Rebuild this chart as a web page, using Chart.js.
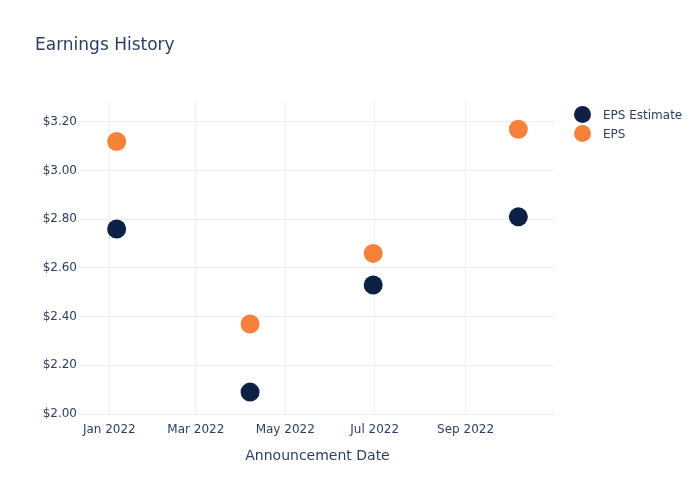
<!DOCTYPE html>
<html>
<head>
<meta charset="utf-8">
<script src="https://cdn.jsdelivr.net/npm/chart.js@4.4.0/dist/chart.umd.min.js"></script>
<style>
    body { margin: 0; background: #fff; font-family: "DejaVu Sans", sans-serif; }
    #wrap { position: relative; width: 700px; height: 500px; }
    #earningsChart { display: block; }
    #title { position: absolute; left: 35px; top: 34px; font-size: 17px; color: #2a3f5f; }
    #legend { position: absolute; left: 574px; top: 106px; font-size: 12px; color: #2a3f5f; }
    #legend div { height: 19px; line-height: 19px; white-space: nowrap; }
    #legend span.dot { display: inline-block; width: 17px; height: 17px; border-radius: 50%; vertical-align: middle; margin-right: 12px; margin-top: -3px; }
</style>
</head>
<body>
<div id="wrap">
    <canvas id="earningsChart" width="700" height="500"></canvas>
    <div id="title">Earnings History</div>
    <div id="legend"></div>
</div>
<script>
const dates = ['2022-01-06', '2022-04-07', '2022-06-30', '2022-10-07'];
const epsEstimate = [2.76, 2.09, 2.53, 2.81];
const eps = [3.12, 2.37, 2.66, 3.17];
const xTickDates = ['2022-01-01', '2022-03-01', '2022-05-01', '2022-07-01', '2022-09-01'];
const xTickLabels = ['Jan 2022', 'Mar 2022', 'May 2022', 'Jul 2022', 'Sep 2022'];
const yTicks = [2.0, 2.2, 2.4, 2.6, 2.8, 3.0, 3.2];

const navy = '#0c2145';
const orange = '#f6813a';
const gridColor = '#ebf0f8';
const textColor = '#2a3f5f';

function toTime(s) {
    let p = s.split('-');
    return Date.UTC(+p[0], +p[1] - 1, +p[2]);
}

function points(values) {
    return values.map((v, i) => ({x: toTime(dates[i]), y: v}));
}

const series = [
    {label: 'EPS Estimate', data: epsEstimate, color: navy},
    {label: 'EPS', data: eps, color: orange}
];

new Chart(document.getElementById('earningsChart').getContext('2d'), {
    type: 'scatter',
    data: {
        datasets: series.map(s => ({
            label: s.label,
            data: points(s.data),
            backgroundColor: s.color,
            borderColor: s.color,
            pointRadius: 9.5,
            pointHoverRadius: 9.5,
            borderWidth: 0
        }))
    },
    options: {
        responsive: false,
        animation: false,
        layout: {padding: {left: 0, right: 145, top: 102, bottom: 0}},
        plugins: {legend: {display: false}, title: {display: false}, tooltip: {enabled: false}},
        scales: {
            x: {
                type: 'linear',
                min: toTime('2021-12-12'),
                max: toTime('2022-11-01'),
                afterBuildTicks: (scale) => {
                    scale.ticks = xTickDates.map(d => ({value: toTime(d)}));
                },
                afterFit: (scale) => { scale.height = 86; },
                ticks: {
                    color: textColor,
                    font: {family: 'DejaVu Sans', size: 12},
                    padding: 9,
                    maxRotation: 0,
                    autoSkip: false,
                    callback: (value) => {
                        let i = xTickDates.findIndex(d => toTime(d) === value);
                        return i >= 0 ? xTickLabels[i] : '';
                    }
                },
                grid: {color: gridColor, drawTicks: false},
                border: {display: false},
                title: {
                    display: true,
                    text: 'Announcement Date',
                    color: textColor,
                    font: {family: 'DejaVu Sans', size: 14},
                    padding: {top: 0, bottom: 35}
                }
            },
            y: {
                min: 2.0,
                max: 3.282,
                afterBuildTicks: (scale) => {
                    scale.ticks = yTicks.map(v => ({value: v}));
                },
                afterFit: (scale) => { scale.width = 80; },
                ticks: {
                    color: textColor,
                    font: {family: 'DejaVu Sans', size: 12},
                    padding: 3,
                    callback: (value) => '$' + value.toFixed(2)
                },
                grid: {color: gridColor, drawTicks: false},
                border: {display: false}
            }
        }
    }
});

document.getElementById('legend').innerHTML = series.map(s =>
    '<div><span class="dot" style="background:' + s.color + '"></span>' + s.label + '</div>'
).join('');
</script>
</body>
</html>
